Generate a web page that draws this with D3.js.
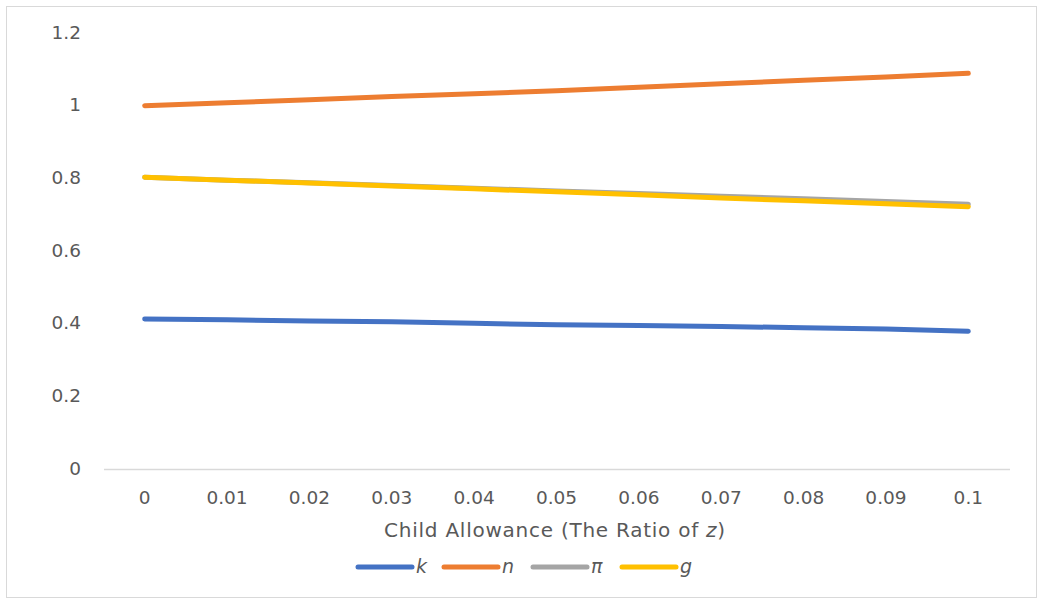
<!DOCTYPE html>
<html>
<head>
<meta charset="utf-8">
<script src="https://cdn.jsdelivr.net/npm/d3@7"></script>
<style>
  html, body { margin: 0; padding: 0; background: #fff; }
  svg text { font-family: "DejaVu Sans", "Open Sans", sans-serif; fill: #595959; }
</style>
</head>
<body>
<svg id="chart" width="1038" height="603"></svg>
<script>
// Child allowance ratio (x categories)
const categories = ["0", "0.01", "0.02", "0.03", "0.04", "0.05", "0.06", "0.07", "0.08", "0.09", "0.1"];
// Series values
const kValues  = [0.413, 0.411, 0.407, 0.405, 0.401, 0.397, 0.395, 0.392, 0.389, 0.385, 0.379];
const nValues  = [1.000, 1.008, 1.016, 1.025, 1.033, 1.041, 1.051, 1.060, 1.070, 1.079, 1.089];
const piValues = [0.803, 0.795, 0.788, 0.780, 0.773, 0.765, 0.758, 0.751, 0.744, 0.736, 0.729];
const gValues  = [0.803, 0.795, 0.787, 0.779, 0.771, 0.763, 0.755, 0.746, 0.738, 0.730, 0.722];
const seriesNames = ["k", "n", "\u03c0", "g"];
const seriesColors = ["#4472C4", "#ED7D31", "#A5A5A5", "#FFC000"];
// Y tick labels
const yTicks = [0, 0.2, 0.4, 0.6, 0.8, 1, 1.2];

const series = [kValues, nValues, piValues, gValues].map((vals, i) => ({
  name: seriesNames[i], color: seriesColors[i], values: vals
}));

const TICK_SIZE = "18.5px";
const svg = d3.select("#chart");

// outer frame
svg.append("rect")
  .attr("x", 6.5).attr("y", 6.5)
  .attr("width", 1030).attr("height", 591)
  .attr("fill", "#fff").attr("stroke", "#d9d9d9").attr("stroke-width", 1);

const x = d3.scaleBand().domain(categories).range([103.5, 1009.5]);
const y = d3.scaleLinear().domain([0, 1.2]).range([469, 33]);

// category axis
const xAxis = svg.append("g")
  .attr("transform", `translate(0,${y(0)})`)
  .call(d3.axisBottom(x).tickSize(0).tickPadding(0));
xAxis.select(".domain").attr("stroke", "#d9d9d9").attr("stroke-width", 1.5);
xAxis.selectAll("text")
  .attr("dy", null).attr("y", 30)
  .attr("dominant-baseline", "middle")
  .style("font-size", TICK_SIZE);

// value axis labels
const yAxis = svg.append("g")
  .attr("transform", "translate(81,0)")
  .call(d3.axisLeft(y).tickValues(yTicks).tickFormat(d3.format("~g")).tickSize(0).tickPadding(0));
yAxis.select(".domain").remove();
yAxis.selectAll("text")
  .attr("dy", null).attr("x", 0)
  .attr("dominant-baseline", "middle")
  .style("font-size", TICK_SIZE);
svg.selectAll(".tick text").attr("fill", "#595959");
svg.selectAll("g").attr("font-family", null).attr("font-size", null);

// series lines
const line = d3.line()
  .x((d, i) => x(categories[i]) + x.bandwidth() / 2)
  .y(d => y(d));

svg.append("g").selectAll("path")
  .data(series)
  .join("path")
  .attr("d", d => line(d.values))
  .attr("fill", "none")
  .attr("stroke", d => d.color)
  .attr("stroke-width", 5)
  .attr("stroke-linecap", "round")
  .attr("stroke-linejoin", "round");

// axis title
const title = svg.append("text")
  .attr("x", 555).attr("y", 531)
  .attr("text-anchor", "middle")
  .attr("dominant-baseline", "middle")
  .style("font-size", "20px")
  .style("letter-spacing", "0.75px");
title.append("tspan").text("Child Allowance (The Ratio of ");
title.append("tspan").style("font-style", "italic").text("z");
title.append("tspan").text(")");

// legend
const legendX = [358, 444, 533, 622];
const legend = svg.append("g").selectAll("g")
  .data(series)
  .join("g")
  .attr("transform", (d, i) => `translate(${legendX[i]},567)`);
legend.append("line")
  .attr("x1", 0).attr("x2", 54)
  .attr("stroke", d => d.color)
  .attr("stroke-width", 5)
  .attr("stroke-linecap", "round");
legend.append("text")
  .attr("x", 58).attr("y", 0)
  .attr("dominant-baseline", "middle")
  .style("font-size", "19px")
  .style("font-style", "italic")
  .text(d => d.name);
</script>
</body>
</html>
